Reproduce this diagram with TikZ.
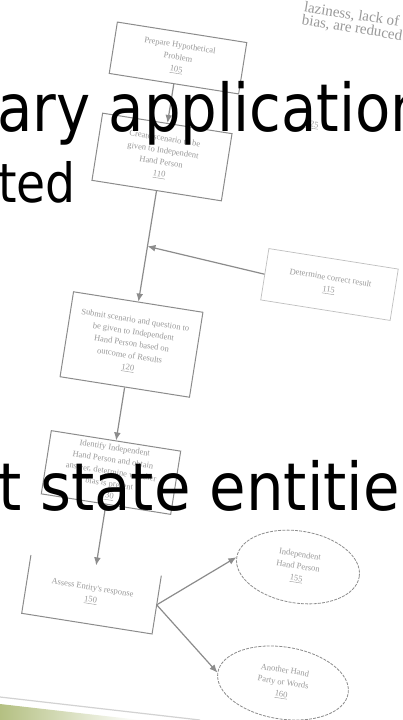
\documentclass[tikz,border=0pt]{standalone}
\usepackage{fontspec}
\setmainfont{DejaVu Sans}
\newfontfamily\patfont{Liberation Serif}
\usetikzlibrary{calc, shapes.geometric}
\usetikzlibrary{arrows.meta}
\tikzset{>={Latex[width=2.4mm,length=2.8mm]}}
\definecolor{figgrey}{gray}{0.55}
\definecolor{figlight}{gray}{0.75}
\definecolor{txtgrey}{gray}{0.6}
\definecolor{pageolive}{RGB}{180,192,130}
\tikzset{
  stepbox/.style={draw=figgrey, line width=1pt, rotate=-9, minimum width=131pt,
    inner sep=0pt, align=center, text=txtgrey,
    font=\patfont\fontsize{8.5}{12}\selectfont},
  outcome/.style={ellipse, draw=figgrey, dashed, dash pattern=on 3pt off 1.2pt,
    line width=0.8pt, rotate=-9, inner sep=0pt, align=center, text=txtgrey,
    font=\patfont\fontsize{8.5}{12}\selectfont},
  flow/.style={->, draw=figgrey, line width=1.2pt},
  slide/.style={font=\fontsize{66}{70}\selectfont, inner sep=0pt,
    anchor=base west, xscale=0.875}
}

\begin{document}
\begin{tikzpicture}[x=1pt, y=-1pt]
  \useasboundingbox (0,0) rectangle (403,720);
  \fill[white] (0,0) rectangle (403,720);

  % the scanned page corner
  \shade[left color=pageolive, right color=white] (0,704) -- (140,720) -- (0,720) -- cycle;
  \draw[gray!35, line width=1.2pt] (0,697) -- (200,720);

  % flowchart
  \node[stepbox, minimum height=52pt] (prep) at (178,58) {Prepare Hypothetical\\Problem\\\underline{105}};
  \node[stepbox, minimum height=68pt] (scen) at (162,157) {Create scenario to be\\given to Independent\\Hand Person\\\underline{110}};
  \node[stepbox, draw=figlight, line width=0.7pt, minimum height=52pt] (corr) at (329.5,284.5) {Determine correct result\\\underline{115}};
  \node[stepbox, minimum height=86pt] (subm) at (131.5,344.5) {Submit scenario and question to\\be given to Independent\\Hand Person based on\\outcome of Results\\\underline{120}};
  \node[stepbox, minimum height=64pt] (iden) at (111,472.5) {Identify Independent\\Hand Person and obtain\\answer, determine whether\\bias is present\\\underline{130}};
  \node[stepbox, draw=none, minimum height=58pt] (asse) at (91.5,594.5) {Assess Entity's response\\\underline{150}};
  \draw[figgrey, line width=1pt] (asse.north west) -- (asse.south west) -- (asse.south east) -- (asse.north east);
  \node[outcome, minimum width=124pt, minimum height=72pt] (indp) at (298,567) {Independent\\Hand Person\\\underline{155}};
  \node[outcome, minimum width=132pt, minimum height=72pt] (anot) at (283,683) {Another Hand\\Party or Words\\\underline{160}};
  \node[text=txtgrey, rotate=-9, font=\patfont\fontsize{8.5}{10}\selectfont] (stray) at (312,125) {\underline{125}};
  \node[text=txtgrey, rotate=-9, anchor=north west, align=left, inner sep=0pt, font=\patfont\fontsize{15}{13}\selectfont] (note) at (305,1) {laziness, lack of\\bias, are reduced};

  \draw[flow] (prep) -- (scen);
  \draw[flow] (scen) -- (subm);
  \coordinate (join) at ($(scen.south)!0.5!(subm.north)$);
  \draw[flow] (corr.west) -- (join);
  \draw[flow] (subm) -- (iden);
  \draw[flow] (iden) -- (asse);
  \draw[flow] (asse.east) -- (indp.west);
  \draw[flow] (asse.east) -- (anot.west);

  % slide text
  \node[slide] (line1) at (-3,131) {ary application};
  \node[slide, font=\fontsize{54}{58}\selectfont] (line2) at (-2,202) {ted};
  \node[slide, xscale=0.9/0.875] (line3) at (-2,510) {t state entitie};
\end{tikzpicture}
\end{document}
